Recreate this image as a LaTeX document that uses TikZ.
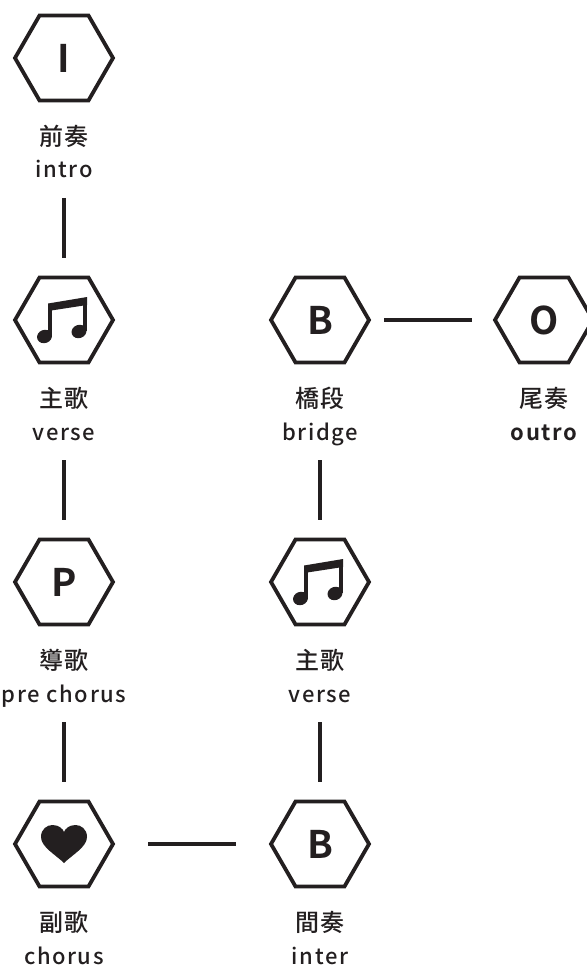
\documentclass[tikz,border=0pt]{standalone}
\usepackage{fontspec}
\setmainfont{Noto Sans CJK TC}[UprightFont=* Medium, BoldFont=* Bold, LetterSpace=7]
\newfontfamily\letterfont{Noto Sans CJK TC}[BoldFont=* Bold]
\usetikzlibrary{shapes.geometric}
\definecolor{ink}{HTML}{231F20}
\tikzset{
  musicnote/.pic={
    \fill[ink] (-19.5,16.5) ellipse [x radius=7.6pt, y radius=6.6pt, rotate=20];
    \fill[ink] (15,11.5) ellipse [x radius=7.6pt, y radius=6.6pt, rotate=20];
    \fill[ink] (-16,16) rectangle (-12.3,-14);
    \fill[ink] (19.2,11) rectangle (23,-19);
    \fill[ink] (-16,-9) -- (-16,-16.5) -- (23,-23) -- (23,-15) -- cycle;
  },
  heartpic/.pic={
    \fill[ink] (0,19) .. controls (-8,11) and (-23,3) .. (-23,-7)
      .. controls (-23,-15) and (-17,-19) .. (-11.5,-19)
      .. controls (-5,-19) and (-1,-15) .. (0,-12)
      .. controls (1,-15) and (5,-19) .. (11.5,-19)
      .. controls (17,-19) and (23,-15) .. (23,-7)
      .. controls (23,3) and (8,11) .. (0,19) -- cycle;
  }
}
\begin{document}
\begin{tikzpicture}[x=1pt,y=-1pt,
  hexa/.style={regular polygon, regular polygon sides=6, minimum size=98pt,
    inner sep=0pt, outer sep=0pt, draw=ink, line width=3.8pt, line join=miter,
    font=\letterfont\bfseries\fontsize{38}{38}\selectfont, text=ink},
  zh/.style={font=\fontsize{24}{24}\selectfont, text=ink, inner sep=0pt},
  en/.style={font=\fontsize{22}{22}\selectfont, text=ink, inner sep=0pt, anchor=base},
  link/.style={draw=ink, line width=3.5pt}
]
\useasboundingbox (0,0) rectangle (586,965);
% hexagons
\node[hexa] (intro)  at (64,58)   {I};
\node[hexa] (verseA) at (64,320)  {};
\node[hexa] (pre)    at (64,582)  {P};
\node[hexa] (chorus) at (64,844)  {};
\node[hexa] (inter)  at (320,844) {B};
\node[hexa] (verseB) at (320,582) {};
\node[hexa] (bridge) at (320,320) {B};
\node[hexa] (outro)  at (544,320) {O};
% icons
\pic at (verseA.center) {musicnote};
\pic at (verseB.center) {musicnote};
\pic at (chorus.center) {heartpic};
% labels
\node[zh] (introzh)  at (64,136)  {前奏};
\node[en] (introen)  at (64,178)  {intro};
\node[zh] (verseAzh) at (64,398)  {主歌};
\node[en] (verseAen) at (64,440)  {verse};
\node[zh] (prezh)    at (64,660)  {導歌};
\node[en] (preen)    at (64,702)  {pre\hspace{7pt}chorus};
\node[zh] (choruszh) at (64,922)  {副歌};
\node[en] (chorusen) at (64,964)  {chorus};
\node[zh] (interzh)  at (320,922) {間奏};
\node[en] (interen)  at (320,964) {inter};
\node[zh] (verseBzh) at (320,660) {主歌};
\node[en] (verseBen) at (320,702) {verse};
\node[zh] (bridgezh) at (320,398) {橋段};
\node[en] (bridgeen) at (320,440) {bridge};
\node[zh] (outrozh)  at (544,398) {尾奏};
\node[en] (outroen)  at (544,440) {\bfseries outro};
% connectors
\draw[link, shorten <=140pt, shorten >=62pt] (intro.center) -- (verseA.center);
\draw[link, shorten <=140pt, shorten >=62pt] (verseA.center) -- (pre.center);
\draw[link, shorten <=140pt, shorten >=62pt] (pre.center) -- (chorus.center);
\draw[link, shorten <=84pt, shorten >=84pt] (chorus.center) -- (inter.center);
\draw[link, shorten <=140pt, shorten >=62pt] (bridge.center) -- (verseB.center);
\draw[link, shorten <=140pt, shorten >=62pt] (verseB.center) -- (inter.center);
\draw[link, shorten <=64pt, shorten >=72pt] (bridge.center) -- (outro.center);
\end{tikzpicture}
\end{document}
